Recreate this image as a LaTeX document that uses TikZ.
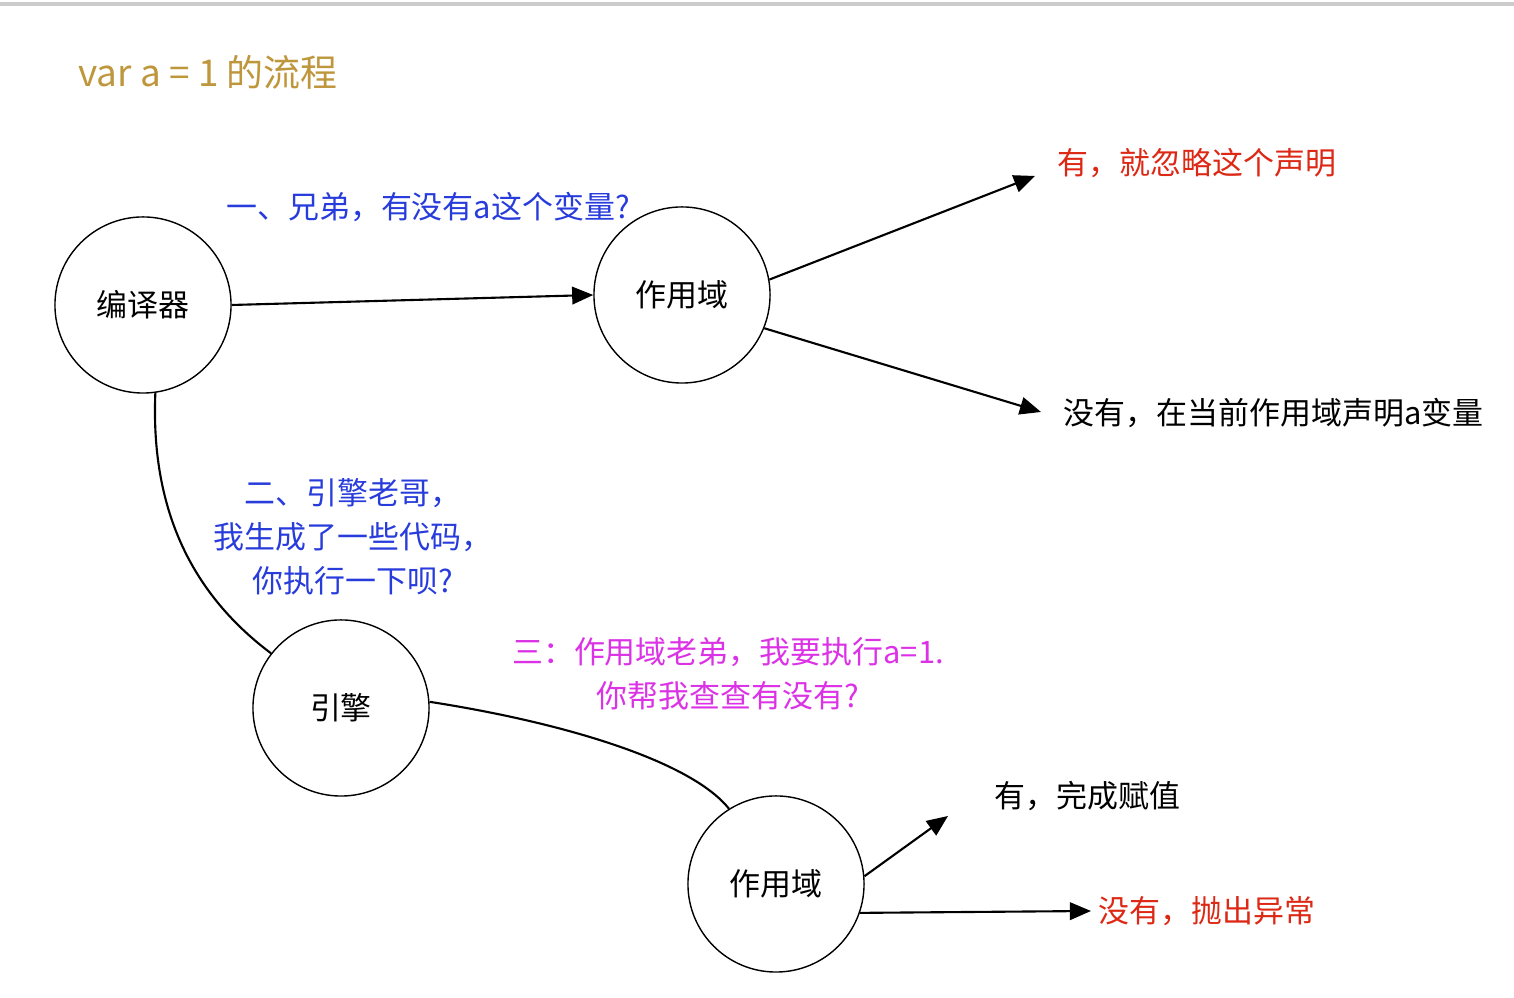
\documentclass[tikz,border=0pt]{standalone}
\usepackage{fontspec}
\setmainfont{Noto Sans CJK SC}
\usetikzlibrary{arrows.meta}
\definecolor{gold}{RGB}{190,150,60}
\definecolor{ask}{RGB}{40,60,220}
\definecolor{warn}{RGB}{220,40,20}
\definecolor{pink}{RGB}{220,50,230}
\begin{document}
\begin{tikzpicture}[x=0.01cm, y=-0.01cm, >={Triangle[length=6pt,width=5pt]}, align=center]
\tikzstyle{v} = [circle, draw=black, minimum size=1.76cm, inner sep=0pt, font=\fontsize{8.8}{10}\selectfont]
\tikzstyle{t} = [font=\fontsize{8.8}{12.5}\selectfont, inner sep=2pt]
\tikzstyle{e} = [draw=black, line width=0.6pt]

\useasboundingbox (0,0) rectangle (1514,998);
\draw[gray!40, line width=1pt] (0,4) -- (1514,4);

\node[anchor=west, text=gold, font=\fontsize{10.5}{12}\selectfont] (title) at (66,72) {var a = 1 的流程};

\node[v] (C) at (143,305) {编译器};
\node[v] (S) at (682,295) {作用域};
\node[v] (E) at (341,708) {引擎};
\node[v] (S2) at (776,884) {作用域};

\node[t, text=ask] (q1) at (428,207) {一、兄弟，有没有a这个变量?};
\node[t, text=warn, anchor=west] (y1) at (1050,163) {有，就忽略这个声明};
\node[t, anchor=west] (n1) at (1056,413) {没有，在当前作用域声明a变量};
\node[t, text=ask] (q2) at (353,537) {二、引擎老哥，\\我生成了一些代码，\\你执行一下呗?};
\node[t, text=pink] (q3) at (728,674) {三：作用域老弟，我要执行a=1.\\你帮我查查有没有?};
\node[t, anchor=west] (y2) at (987,796) {有，完成赋值};
\node[t, text=warn, anchor=west] (n2) at (1091,911) {没有，抛出异常};

\coordinate (y1a) at (1035,176);
\coordinate (n1a) at (1041,412);
\coordinate (y2a) at (948,816);

\draw[e, ->] (C.east) -- (S.west);
\draw[e, ->] (S.10) -- (y1a);
\draw[e, ->] (S.-22) -- (n1a);
\draw[e] (C.-82) .. controls (150,520) and (200,600) .. (E.142);
\draw[e] (E.4) .. controls (560,722) and (690,760) .. (S2.122);
\draw[e, ->] (S2.5) -- (y2a);
\draw[e, ->] (S2.-19) -- (n2.west);
\end{tikzpicture}
\end{document}
